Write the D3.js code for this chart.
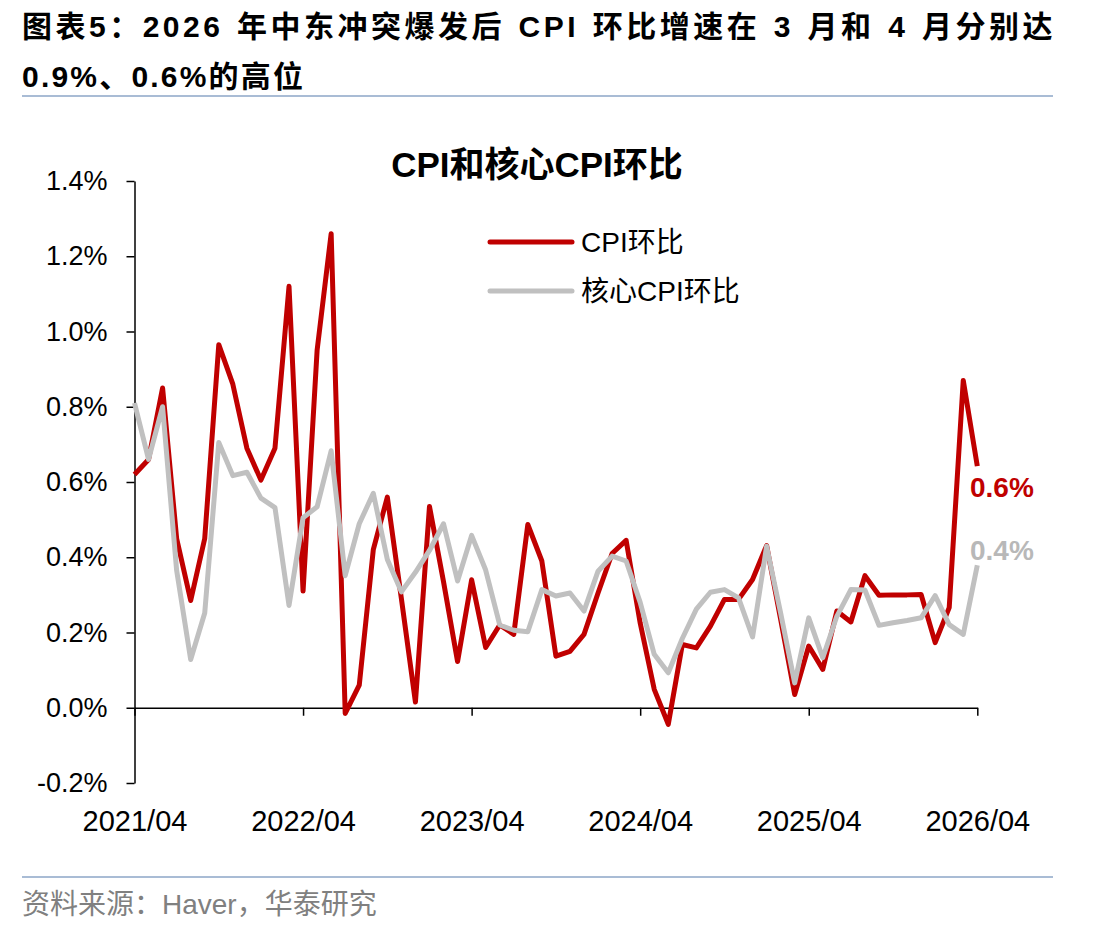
<!DOCTYPE html>
<html lang="zh">
<head>
<meta charset="utf-8">
<title>CPI和核心CPI环比</title>
<script src="https://d3js.org/d3.v7.min.js"></script>
<style>
  body { margin: 0; background: #fff; }
  svg { display: block; font-family: "Liberation Sans", Arial, "Noto Sans CJK SC", sans-serif; }
  .title { font-weight: bold; font-size: 30px; fill: #000; }
  .axis path, .axis line { stroke: #000; stroke-width: 1.5; }
  .axis text { font-size: 27px; fill: #000; }
</style>
</head>
<body>
<script>
// monthly data, 2021/04 .. 2026/04 (%, month over month)
var cpi = [
  0.62, 0.66, 0.85, 0.45, 0.285, 0.45, 0.965, 0.86, 0.69, 0.605, 0.69, 1.12,
  0.31, 0.95, 1.26, -0.015, 0.06, 0.42, 0.56, 0.29, 0.015, 0.535, 0.335, 0.123,
  0.34, 0.16, 0.22, 0.195, 0.487, 0.39, 0.137, 0.15, 0.195, 0.305, 0.41, 0.445,
  0.225, 0.049, -0.044, 0.168, 0.159, 0.217, 0.288, 0.288, 0.341, 0.431, 0.235, 0.035,
  0.164, 0.102, 0.257, 0.228, 0.351, 0.299, 0.3, 0.3, 0.301, 0.173, 0.266, 0.87,
  0.642
];
var coreCpi = [
  0.81, 0.66, 0.80, 0.365, 0.128, 0.252, 0.705, 0.617, 0.626, 0.557, 0.532, 0.272,
  0.505, 0.534, 0.683, 0.351, 0.489, 0.57, 0.394, 0.308, 0.36, 0.418, 0.489, 0.337,
  0.458, 0.366, 0.22, 0.206, 0.202, 0.314, 0.297, 0.305, 0.257, 0.363, 0.403, 0.39,
  0.28, 0.142, 0.093, 0.184, 0.262, 0.307, 0.314, 0.292, 0.188, 0.429, 0.252, 0.066,
  0.239, 0.133, 0.243, 0.314, 0.313, 0.219, 0.226, 0.232, 0.239, 0.298, 0.221, 0.195,
  0.379
];
var xTickIdx = [0, 12, 24, 36, 48, 60];
var xTickLabels = ["2021/04", "2022/04", "2023/04", "2024/04", "2025/04", "2026/04"];
var yTicks = [-0.2, 0, 0.2, 0.4, 0.6, 0.8, 1.0, 1.2, 1.4];
var yTickLabels = ["-0.2%", "0.0%", "0.2%", "0.4%", "0.6%", "0.8%", "1.0%", "1.2%", "1.4%"];
var seriesNames = ["CPI环比", "核心CPI环比"];
var endLabels = ["0.6%", "0.4%"];

var W = 1112, H = 931;
var red = "#c00000", grey = "#c0c0c0";

var svg = d3.select("body").append("svg")
    .attr("width", W)
    .attr("height", H);

// header: first line is spread to the full width, mostly at the spaces
var t1 = svg.append("text").attr("class", "title")
    .attr("x", 22).attr("y", 37)
    .style("letter-spacing", "3.5px")
    .text("图表5：2026 年中东冲突爆发后 CPI 环比增速在 3 月和 4 月分别达");
var w1 = t1.node().getComputedTextLength();
var nSp = (t1.text().match(/ /g) || []).length;
t1.style("word-spacing", Math.max(0, (1034 - w1) / nSp) + "px");

svg.append("text").attr("class", "title")
    .attr("x", 22).attr("y", 87)
    .style("letter-spacing", "2.2px")
    .text("0.9%、0.6%的高位");
svg.append("line")
    .attr("x1", 22).attr("x2", 1053).attr("y1", 96).attr("y2", 96)
    .style("stroke", "#a9bcd5").style("stroke-width", 2);

// footer
svg.append("line")
    .attr("x1", 22).attr("x2", 1053).attr("y1", 877).attr("y2", 877)
    .style("stroke", "#a9bcd5").style("stroke-width", 2);
svg.append("text")
    .attr("x", 22).attr("y", 914)
    .style("font-size", "28px").style("fill", "#808080")
    .text("资料来源：Haver，华泰研究");

// chart title
svg.append("text")
    .attr("x", 537).attr("y", 177)
    .attr("text-anchor", "middle")
    .style("font-size", "35px").style("font-weight", "bold")
    .text("CPI和核心CPI环比");

var x = d3.scaleLinear().domain([0, 60]).range([134.5, 977.3]);
var y = d3.scaleLinear().domain([-0.2, 1.4]).range([783, 181]);

// y axis
svg.append("g").attr("class", "axis")
    .attr("transform", "translate(" + x(0) + ",0)")
    .call(d3.axisLeft(y).tickValues(yTicks)
        .tickFormat(function(d, i) { return yTickLabels[i]; })
        .tickSize(8).tickSizeOuter(0).tickPadding(19));

// x axis at zero, ticks only
svg.append("g").attr("class", "axis")
    .attr("transform", "translate(0," + y(0) + ")")
    .call(d3.axisBottom(x).tickValues(xTickIdx).tickFormat("")
        .tickSize(8).tickSizeOuter(0));

// x labels at the bottom
var xl = svg.append("g").attr("class", "axis")
    .attr("transform", "translate(0," + y(-0.2) + ")")
    .call(d3.axisBottom(x).tickValues(xTickIdx)
        .tickFormat(function(d, i) { return xTickLabels[i]; })
        .tickSize(0).tickPadding(27));
xl.select(".domain").remove();
xl.selectAll("text").style("font-size", "29px");

var line = d3.line()
    .x(function(d, i) { return x(i); })
    .y(function(d) { return y(d); });

svg.append("path").datum(cpi)
    .attr("d", line)
    .style("fill", "none").style("stroke", red)
    .style("stroke-width", 5).style("stroke-linejoin", "round");

svg.append("path").datum(coreCpi)
    .attr("d", line)
    .style("fill", "none").style("stroke", grey)
    .style("stroke-width", 5).style("stroke-linejoin", "round");

// end labels
svg.append("text")
    .attr("x", 970).attr("y", 497)
    .style("font-size", "28px").style("font-weight", "bold").style("fill", red)
    .text(endLabels[0]);
svg.append("text")
    .attr("x", 970).attr("y", 560)
    .style("font-size", "28px").style("font-weight", "bold").style("fill", "#b8b8b8")
    .text(endLabels[1]);

// legend
var legend = svg.append("g");
[red, grey].forEach(function(c, i) {
    var ly = 242 + i * 49;
    legend.append("line")
        .attr("x1", 490).attr("x2", 572).attr("y1", ly).attr("y2", ly)
        .style("stroke", c).style("stroke-width", 5).style("stroke-linecap", "round");
    legend.append("text")
        .attr("x", 581).attr("y", ly + 10)
        .style("font-size", "28px")
        .text(seriesNames[i]);
});
</script>
</body>
</html>
